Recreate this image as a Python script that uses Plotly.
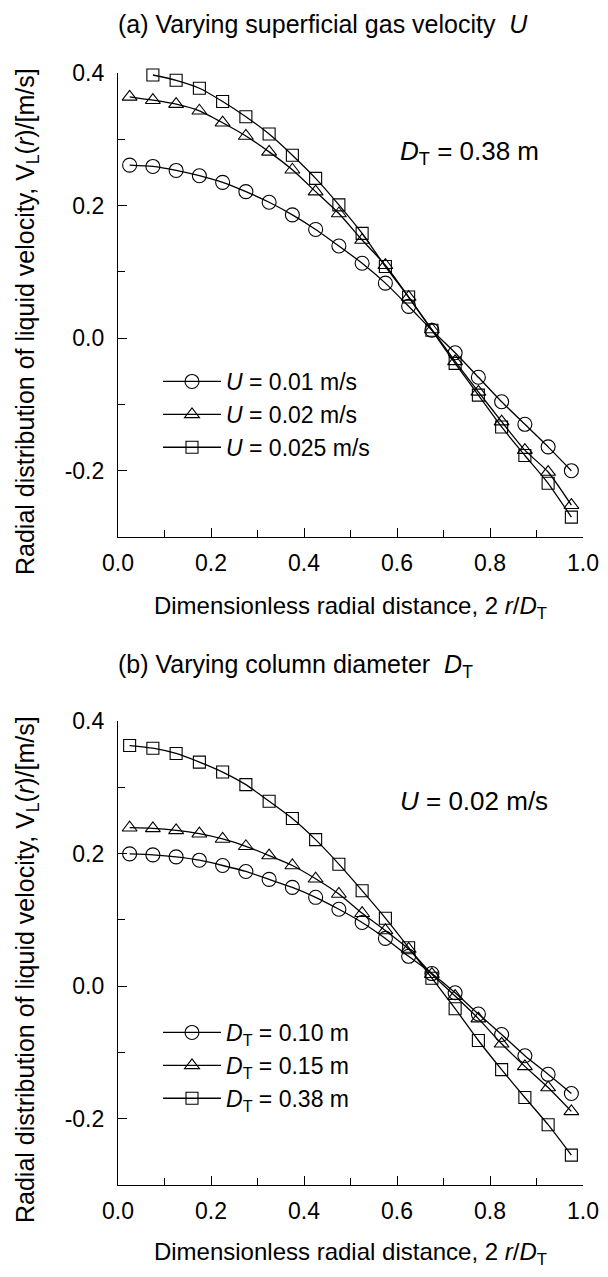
import plotly.graph_objects as go

# ---------------- data ----------------
r_pos = [0.025, 0.075, 0.125, 0.175, 0.225, 0.275, 0.325, 0.375, 0.425, 0.475,
         0.525, 0.575, 0.625, 0.675, 0.725, 0.775, 0.825, 0.875, 0.925, 0.975]
r_pos_sq = r_pos[1:]

# panel (a): varying superficial gas velocity U (D_T = 0.38 m)
u001 = [0.261, 0.259, 0.253, 0.245, 0.235, 0.221, 0.205, 0.186, 0.164, 0.139,
        0.113, 0.083, 0.048, 0.012, -0.022, -0.059, -0.096, -0.130, -0.164, -0.200]
u002 = [0.364, 0.359, 0.353, 0.343, 0.325, 0.305, 0.281, 0.254, 0.221, 0.188,
        0.148, 0.110, 0.062, 0.013, -0.035, -0.081, -0.126, -0.169, -0.202, -0.252]
u0025 = [0.397, 0.389, 0.377, 0.357, 0.334, 0.308, 0.276, 0.241, 0.201,
         0.158, 0.108, 0.062, 0.012, -0.038, -0.086, -0.134, -0.177, -0.219, -0.270]

# panel (b): varying column diameter D_T (U = 0.02 m/s)
d010 = [0.1995, 0.198, 0.195, 0.190, 0.182, 0.173, 0.161, 0.149, 0.134, 0.116,
        0.096, 0.072, 0.045, 0.019, -0.010, -0.042, -0.073, -0.105, -0.133, -0.162]
d015 = [0.239, 0.238, 0.235, 0.230, 0.222, 0.211, 0.197, 0.182, 0.162, 0.139,
        0.110, 0.084, 0.056, 0.018, -0.015, -0.049, -0.087, -0.121, -0.153, -0.189]
d038 = [0.363, 0.359, 0.351, 0.338, 0.323, 0.304, 0.279, 0.253, 0.221, 0.184,
        0.144, 0.1025, 0.058, 0.012, -0.034, -0.082, -0.126, -0.168, -0.209, -0.255]

x_tickvals = [0.0, 0.2, 0.4, 0.6, 0.8, 1.0]
x_ticktext = ["0.0", "0.2", "0.4", "0.6", "0.8", "1.0"]
y_tickvals = [-0.2, 0.0, 0.2, 0.4]
y_ticktext = ["-0.2", "0.0", "0.2", "0.4"]

names_a = ["<i>U</i> = 0.01 m/s", "<i>U</i> = 0.02 m/s", "<i>U</i> = 0.025 m/s"]
names_b = ["<i>D</i><sub>T</sub> = 0.10 m", "<i>D</i><sub>T</sub> = 0.15 m",
           "<i>D</i><sub>T</sub> = 0.38 m"]

x_title = "Dimensionless radial distance, 2 <i>r</i>/<i>D</i><sub>T</sub>"
y_title = "Radial distribution of liquid velocity, V<sub>L</sub>(<i>r</i>)/[m/s]"

FONT = "Liberation Sans, Arial, sans-serif"
TICK_FS = 23
TITLE_FS = 24
YTITLE_FS = 25
LEG_FS = 23
ANN_FS = 26

# the page body has an 8 px margin; the figure fills the rest of the window
W, H = 592, 1261
OFF = 8

def px_x(p):
    return (p - OFF) / W

def px_y(p):
    return 1 - (p - OFF) / H

fig = go.Figure()

symbols = ["circle-open", "triangle-up-open", "square-open"]
sizes = [14, 13, 12]

series_a = [(r_pos, u001), (r_pos, u002), (r_pos_sq, u0025)]
series_b = [(r_pos, d010), (r_pos, d015), (r_pos, d038)]

for i, (xs, ys) in enumerate(series_a):
    fig.add_trace(go.Scatter(
        x=xs, y=ys, mode="lines+markers", name=names_a[i], cliponaxis=False,
        line=dict(color="black", width=1.3, shape="spline", smoothing=0.6),
        marker=dict(symbol=symbols[i], size=sizes[i], color="black",
                    line=dict(width=1.1, color="black")),
        xaxis="x", yaxis="y", legend="legend"))

for i, (xs, ys) in enumerate(series_b):
    fig.add_trace(go.Scatter(
        x=xs, y=ys, mode="lines+markers", name=names_b[i], cliponaxis=False,
        line=dict(color="black", width=1.3, shape="spline", smoothing=0.6),
        marker=dict(symbol=symbols[i], size=sizes[i], color="black",
                    line=dict(width=1.1, color="black")),
        xaxis="x2", yaxis="y2", legend="legend2"))

xdom = [px_x(118), px_x(583)]

def xaxis(anchor):
    return dict(domain=xdom, anchor=anchor, range=[0, 1], automargin=False,
                showline=True, linecolor="black", linewidth=1.2,
                showgrid=False, zeroline=False,
                ticks="inside", ticklen=9, tickwidth=1.1, tickcolor="black",
                tickvals=x_tickvals, ticktext=x_ticktext,
                ticklabelstandoff=5,
                minor=dict(ticks="inside", ticklen=7, tickwidth=1.1,
                           tickcolor="black", dtick=0.1, tick0=0, showgrid=False),
                tickfont=dict(family=FONT, size=TICK_FS, color="black"),
                title=dict(text=x_title,
                           font=dict(family=FONT, size=TITLE_FS, color="black"), standoff=22))

def yaxis(anchor, dom):
    return dict(domain=dom, anchor=anchor, range=[-0.3, 0.4], automargin=False,
                showline=True, linecolor="black", linewidth=1.2,
                showgrid=False, zeroline=False,
                ticks="inside", ticklen=9, tickwidth=1.1, tickcolor="black",
                tickvals=y_tickvals, ticktext=y_ticktext,
                ticklabelstandoff=8,
                minor=dict(ticks="inside", ticklen=7, tickwidth=1.1,
                           tickcolor="black", dtick=0.1, tick0=0, showgrid=False),
                tickfont=dict(family=FONT, size=TICK_FS, color="black"))

legend_common = dict(bgcolor="rgba(0,0,0,0)", borderwidth=0,
                     font=dict(family=FONT, size=LEG_FS, color="black"),
                     itemwidth=58, tracegroupgap=0,
                     xanchor="left", yanchor="top")

def text_ann(text, x, y, size, xanchor="left", angle=0):
    return dict(text=text, x=px_x(x), y=px_y(y), xref="paper", yref="paper",
                xanchor=xanchor, yanchor="middle", textangle=angle,
                showarrow=False, font=dict(family=FONT, size=size, color="black"))

fig.update_layout(
    template="none",
    width=W, height=H,
    margin=dict(l=0, r=0, t=0, b=0, autoexpand=False),
    paper_bgcolor="white", plot_bgcolor="white",
    font=dict(family=FONT, size=TICK_FS, color="black"),
    xaxis=xaxis("y"),
    yaxis=yaxis("x", [px_y(537), px_y(73)]),
    xaxis2=xaxis("y2"),
    yaxis2=yaxis("x2", [px_y(1185), px_y(721)]),
    legend=dict(x=px_x(158), y=px_y(360), **legend_common),
    legend2=dict(x=px_x(158), y=px_y(1011), **legend_common),
    annotations=[
        text_ann("(a) Varying superficial gas velocity  <i>U</i>", 116, 24, 25),
        text_ann("(b) Varying column diameter  <i>D</i><sub>T</sub>", 116, 666, 25),
        text_ann("<i>D</i><sub>T</sub> = 0.38 m", 398, 152, ANN_FS),
        text_ann("<i>U</i> = 0.02 m/s", 398, 801, ANN_FS),
        text_ann(y_title, 27, 322, YTITLE_FS, xanchor="center", angle=-90),
        text_ann(y_title, 27, 970, YTITLE_FS, xanchor="center", angle=-90),
    ],
    showlegend=True,
)

fig.write_html("out.html")
